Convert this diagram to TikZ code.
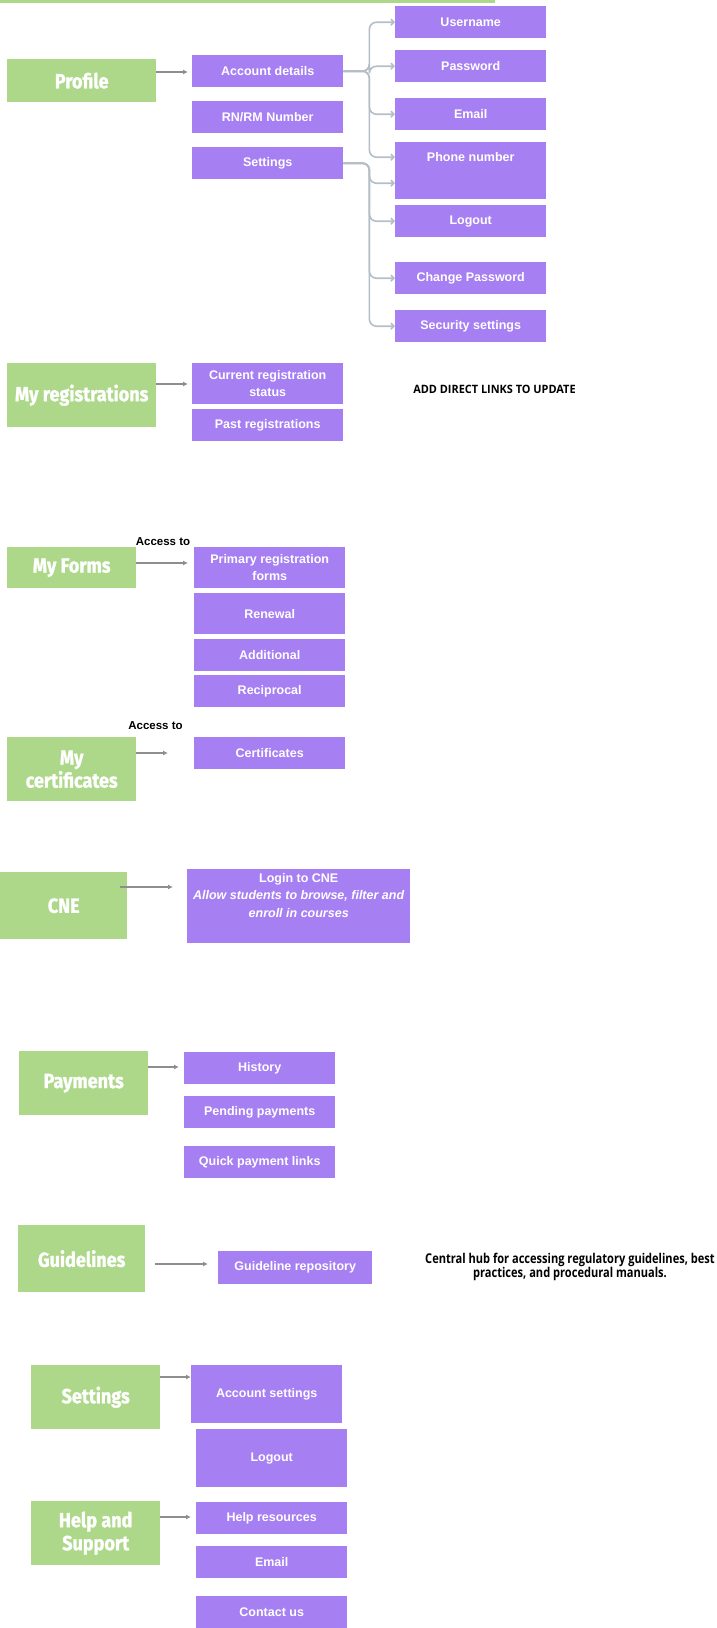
\documentclass[tikz,border=0pt]{standalone}
\usepackage{fontspec}
\setmainfont{Liberation Sans}
\newfontfamily\headfont{Fira Sans}[FakeStretch=0.88,FakeBold=1.2]
\newfontfamily\notefont{Open Sans}[FakeStretch=0.82]
\newfontfamily\capsnotefont{Open Sans}[FakeStretch=0.95]
\usetikzlibrary{arrows.meta}
\definecolor{boxgreen}{HTML}{ADD889}
\definecolor{boxpurple}{HTML}{A67FF2}
\definecolor{arrowgray}{HTML}{8E8E8E}
\definecolor{treegray}{HTML}{B3BEC6}
\begin{document}
\begin{tikzpicture}[x=1pt,y=-1pt,
  sz/.style 2 args={minimum width=#1pt,minimum height=#2pt},
  grn/.style={fill=boxgreen,anchor=north west,inner sep=0pt,text=white,align=center,
    font=\headfont\bfseries\fontsize{20.5}{23}\selectfont},
  prp/.style={fill=boxpurple,anchor=north west,inner sep=0pt,text=white,align=center,
    font=\bfseries\fontsize{12.5}{17.5}\selectfont},
  link/.style={draw=arrowgray,line width=1.5pt,-{Latex[length=5pt,width=5pt]}},
  tree/.style={draw=treegray,line width=1.6pt,rounded corners=7pt,
    -{Straight Barb[length=3pt,width=6pt]}},
  access/.style={font=\bfseries\fontsize{11.5}{13}\selectfont,text=black,inner sep=0pt},
  note/.style={font=\notefont\bfseries\fontsize{13.5}{14}\selectfont,text=black,
    inner sep=0pt,align=center}
]
\useasboundingbox (0,0) rectangle (716,1628);
\fill[boxgreen] (0,0) rectangle (495,3);

% ---------- Profile ----------
\node[grn,sz={149}{43}] (profile) at (7,59) {Profile};
\node[prp,sz={151}{32}] (acc)   at (192,55)  {Account details};
\node[prp,sz={151}{32}] (rnrm)  at (192,101) {RN/RM Number};
\node[prp,sz={151}{32}] (sett)  at (192,147) {Settings};
\node[prp,sz={151}{32}] (user)  at (395,6)   {Username};
\node[prp,sz={151}{32}] (pass)  at (395,50)  {Password};
\node[prp,sz={151}{32}] (email) at (395,98)  {Email};
\node[prp,minimum width=151pt,text height=19.5pt,text depth=37.5pt] (phone) at (395,142) {Phone number};
\node[prp,sz={151}{32}] (logout) at (395,205) {Logout};
\node[prp,sz={151}{32}] (chpw)   at (395,262) {Change Password};
\node[prp,sz={151}{32}] (secs)   at (395,310) {Security settings};

\coordinate (profTip) at (188,72);
\draw[link] (profile.east |- profTip) -- (profTip);

\draw[tree] (acc.east) -- ([xshift=26pt]acc.east) |- (user.west);
\draw[tree] (acc.east) -- ([xshift=26pt]acc.east) |- (pass.west);
\draw[tree] (acc.east) -- ([xshift=26pt]acc.east) |- (email.west);
\draw[tree] (acc.east) -- ([xshift=26pt]acc.east) |- ([yshift=13.5pt]phone.west);
\draw[tree] (sett.east) -- ([xshift=26pt]sett.east) |- ([yshift=-12.5pt]phone.west);
\draw[tree] (sett.east) -- ([xshift=26pt]sett.east) |- (logout.west);
\draw[tree] (sett.east) -- ([xshift=26pt]sett.east) |- (chpw.west);
\draw[tree] (sett.east) -- ([xshift=26pt]sett.east) |- (secs.west);

% ---------- My registrations ----------
\node[grn,sz={149}{64}] (myreg) at (7,363) {My registrations};
\node[prp,sz={151}{41}] (curreg)  at (192,363) {Current registration\\status};
\node[prp,sz={151}{32}] (pastreg) at (192,409) {Past registrations};
\coordinate (regTip) at (188,384);
\draw[link] (myreg.east |- regTip) -- (regTip);
\node[note,font=\capsnotefont\bfseries\fontsize{11.5}{13}\selectfont] (addlinks) at (494.5,389) {ADD DIRECT LINKS TO UPDATE};

% ---------- My Forms ----------
\node[access] (access1) at (163,542) {Access to};
\node[grn,sz={129}{41}] (myforms) at (7,547) {My Forms};
\node[prp,sz={151}{41}] (primary)    at (194,547) {Primary registration\\forms};
\node[prp,sz={151}{41}] (renewal)    at (194,593) {Renewal};
\node[prp,sz={151}{32}] (additional) at (194,639) {Additional};
\node[prp,sz={151}{32}] (reciprocal) at (194,675) {Reciprocal};
\coordinate (formsTip) at (188,563);
\draw[link] (myforms.east |- formsTip) -- (formsTip);

% ---------- My certificates ----------
\node[access] (access2) at (155.5,726) {Access to};
\node[grn,sz={129}{64}] (mycert) at (7,737) {My\\certificates};
\node[prp,sz={151}{32}] (certs) at (194,737) {Certificates};
\coordinate (certTip) at (168,753);
\draw[link] (mycert.east |- certTip) -- (certTip);

% ---------- CNE ----------
\node[grn,sz={127}{67}] (cne) at (0,872) {CNE};
\node[prp,sz={223}{74}] (login) at (187,869) {};
\node[text=white,align=center,inner sep=0pt,anchor=north,
  font=\bfseries\fontsize{12.5}{17.5}\selectfont] (logintext) at ([yshift=-4pt]login.north)
  {Login to CNE\\\textit{Allow students to browse, filter and}\\\textit{enroll in courses}};
\coordinate (cneTip) at (173,887);
\draw[link,shorten <=-7pt] (cne.east |- cneTip) -- (cneTip);

% ---------- Payments ----------
\node[grn,sz={129}{64}] (payments) at (19,1051) {Payments};
\node[prp,sz={151}{32}] (history) at (184,1052) {History};
\node[prp,sz={151}{32}] (pending) at (184,1096) {Pending payments};
\node[prp,sz={151}{32}] (quick)   at (184,1146) {Quick payment links};
\coordinate (payTip) at (179,1067);
\draw[link] (payments.east |- payTip) -- (payTip);

% ---------- Guidelines ----------
\node[grn,sz={127}{67}] (guidelines) at (18,1225) {Guidelines};
\node[prp,sz={154}{33}] (repo) at (218,1251) {Guideline repository};
\coordinate (guideTip) at (208,1264);
\draw[link,shorten <=10pt] (guidelines.east |- guideTip) -- (guideTip);
\node[note] (hub) at (570,1267) {Central hub for accessing regulatory guidelines, best\\practices, and procedural manuals.};

% ---------- Settings ----------
\node[grn,sz={129}{64}] (settings) at (31,1365) {Settings};
\node[prp,sz={151}{58}] (accset)  at (191,1365) {Account settings};
\node[prp,sz={151}{58}] (logout2) at (196,1429) {Logout};
\coordinate (setTip) at (191,1377);
\draw[link] (settings.east |- setTip) -- (setTip);

% ---------- Help and Support ----------
\node[grn,sz={129}{64}] (help) at (31,1501) {Help and\\Support};
\node[prp,sz={151}{32}] (helpres) at (196,1502) {Help resources};
\node[prp,sz={151}{32}] (email2)  at (196,1546) {Email};
\node[prp,sz={151}{32}] (contact) at (196,1596) {Contact us};
\coordinate (helpTip) at (191,1517);
\draw[link] (help.east |- helpTip) -- (helpTip);
\end{tikzpicture}
\end{document}
